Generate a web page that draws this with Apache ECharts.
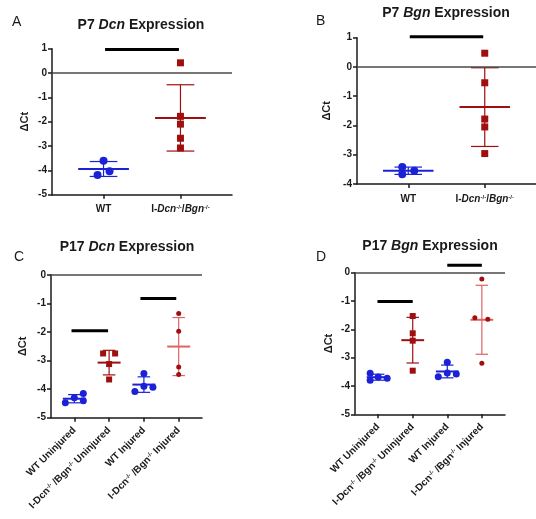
<!DOCTYPE html>
<html>
<head>
<meta charset="utf-8">
<script src="https://cdn.jsdelivr.net/npm/echarts@6.0.0/dist/echarts.min.js"></script>
<style>
html, body { margin: 0; padding: 0; background: #fff; }
#main { width: 536px; height: 519px; }
</style>
</head>
<body>
<div id="main"></div>
<script>
// ΔCt values
var p7Cats = ['WT', 'KO'];
var p17Cats = ['WT Uninjured', 'KO Uninjured', 'WT Injured', 'KO Injured'];

var p7DcnWT = [-3.60, -4.19, -4.04];
var p7DcnKO = [0.42, -1.78, -2.10, -2.68, -3.08];
var p7BgnWT = [-3.42, -3.67, -3.55];
var p7BgnKO = [0.47, -0.54, -1.78, -2.05, -2.96];

var p17DcnWTUninj = [-4.48, -4.30, -4.15, -4.41];
var p17DcnKOUninj = [-2.75, -2.75, -3.12, -3.66];
var p17DcnWTInj = [-3.45, -4.08, -3.90, -3.93];
var p17DcnKOInj = [-1.35, -1.97, -3.22, -3.49];

var p17BgnWTUninj = [-3.55, -3.80, -3.68, -3.73];
var p17BgnKOUninj = [-1.53, -2.14, -2.40, -3.46];
var p17BgnWTInj = [-3.16, -3.67, -3.54, -3.58];
var p17BgnKOInj = [-0.22, -1.59, -1.64, -3.20];

// significance bars: [from category, to category, height]
var sigA = [[1.02, 1.98, 0.97]];
var sigB = [[1.02, 1.98, 1.03]];
var sigC = [[0.92, 1.97, -1.95], [2.90, 3.93, -0.82]];
var sigD = [[0.98, 2.00, -1.02], [3.00, 4.00, 0.26]];

// horizontal jitter of the dots (px)
var jitA = [[0, -6, 6], [0, 0, 0, 0, 0]];
var jitB = [[-6, -6, 6], [0, 0, 0, 0, 0]];
var jitC = [[-9, 0, 9, 9], [-6, 6, 0, 0], [0, -9, 0, 9], [0, 0, 0, 0]];
var jitD = [[-8, -8, 0, 9], [0, 0, 0, 0], [0, -9, 0, 9], [0, -7, 6, 0]];

var BLUE = '#1b22d6';
var DKRED = '#a00f0f';
var LTRED = '#e06262';
var INK = '#1a1a1a';
var FONT = 'Liberation Sans, Arial, sans-serif';

var chart = echarts.init(document.getElementById('main'));

function stats(v) {
    var m = v.reduce(function (a, b) { return a + b; }, 0) / v.length;
    var ss = v.reduce(function (a, b) { return a + (b - m) * (b - m); }, 0);
    return {mean: m, sd: Math.sqrt(ss / (v.length - 1))};
}

function renderErr(params, api) {
    var x = api.value(0), m = api.value(1), s = api.value(2);
    var unit = api.size([1, 0])[0];
    var c = api.coord([x, m]);
    var t = api.coord([x, m + s]);
    var b = api.coord([x, m - s]);
    var hw = unit * 0.33, cw = unit * 0.18;
    var col = api.visual('color');
    var thin = {stroke: col, lineWidth: 1.2};
    return {
        type: 'group',
        children: [
            {type: 'line', shape: {x1: t[0], y1: t[1], x2: b[0], y2: b[1]}, style: thin},
            {type: 'line', shape: {x1: t[0] - cw, y1: t[1], x2: t[0] + cw, y2: t[1]}, style: thin},
            {type: 'line', shape: {x1: b[0] - cw, y1: b[1], x2: b[0] + cw, y2: b[1]}, style: thin},
            {type: 'line', shape: {x1: c[0] - hw, y1: c[1], x2: c[0] + hw, y2: c[1]}, style: {stroke: col, lineWidth: 2}}
        ]
    };
}

function renderSig(params, api) {
    var p1 = api.coord([api.value(0), api.value(2)]);
    var p2 = api.coord([api.value(1), api.value(2)]);
    return {type: 'line', shape: {x1: p1[0], y1: p1[1], x2: p2[0], y2: p2[1]}, style: {stroke: '#000', lineWidth: 3}};
}

var circle = {symbol: 'circle', size: 8, color: BLUE, bar: BLUE};
var square = {symbol: 'rect', size: 7, color: DKRED, bar: DKRED};
var dot = {symbol: 'circle', size: 6, color: DKRED, bar: LTRED};

var panels = [
    {groups: [p7DcnWT, p7DcnKO], jit: jitA, looks: [circle, square], sig: sigA},
    {groups: [p7BgnWT, p7BgnKO], jit: jitB, looks: [circle, square], sig: sigB},
    {groups: [p17DcnWTUninj, p17DcnKOUninj, p17DcnWTInj, p17DcnKOInj], jit: jitC,
        looks: [circle, square, circle, dot], sig: sigC},
    {groups: [p17BgnWTUninj, p17BgnKOUninj, p17BgnWTInj, p17BgnKOInj], jit: jitD,
        looks: [circle, square, circle, dot], sig: sigD}
];

var series = [];
panels.forEach(function (p, k) {
    p.groups.forEach(function (vals, g) {
        var st = stats(vals);
        var look = p.looks[g];
        var small = k >= 2 ? 1 : 0;
        series.push({
            type: 'custom', xAxisIndex: k, yAxisIndex: k, renderItem: renderErr,
            itemStyle: {color: look.bar}, data: [[g + 1, st.mean, st.sd]],
            clip: false, silent: true, z: 2
        });
        series.push({
            type: 'scatter', xAxisIndex: k, yAxisIndex: k,
            symbol: look.symbol, symbolSize: look.size - small,
            itemStyle: {color: look.color, opacity: 1},
            data: vals.map(function (v, i) {
                return {value: [g + 1, v], symbolOffset: [p.jit[g][i], 0]};
            }),
            silent: true, z: 3,
            markLine: g === 0 ? {
                silent: true, symbol: 'none', label: {show: false}, animation: false,
                lineStyle: {color: '#4a4a4a', width: 1.5, type: 'solid'},
                data: [{yAxis: 0}]
            } : undefined
        });
    });
    series.push({
        type: 'custom', xAxisIndex: k, yAxisIndex: k, renderItem: renderSig,
        data: p.sig, clip: false, silent: true, z: 4
    });
});

var rich = {
    b: {fontFamily: FONT, fontWeight: 'bold', fontSize: 10, color: INK},
    i: {fontFamily: FONT, fontWeight: 'bold', fontStyle: 'italic', fontSize: 10, color: INK},
    s: {fontFamily: FONT, fontWeight: 'bold', fontSize: 6, color: INK, verticalAlign: 'top'}
};

function p7Label(v) {
    var name = p7Cats[Math.round(v) - 1];
    if (name === 'WT') return '{b|WT}';
    return '{b|I-}{i|Dcn}{s|-/-}{b|/}{i|Bgn}{s|-/-}';
}

function p17Label(v) {
    var name = p17Cats[Math.round(v) - 1];
    if (name.indexOf('WT') === 0) return '{b|' + name + '}';
    return '{b|I-Dcn}{s|-/-}{b| /Bgn}{s|-/-}{b| ' + name.replace('KO ', '') + '}';
}

var grids = [
    {left: 52, top: 48.7, width: 180, height: 146},
    {left: 357, top: 37.7, width: 179, height: 146.3},
    {left: 51, top: 275, width: 151, height: 142.7},
    {left: 355, top: 272.7, width: 150, height: 141.6}
];
grids.forEach(function (g) { g.outerBoundsMode = 'none'; g.containLabel = false; });

var lineSt = {color: INK, width: 1.5};

var xAxes = [0, 1, 2, 3].map(function (k) {
    var four = k >= 2;
    var ticks = four ? [1, 2, 3, 4] : [1, 2];
    return {
        type: 'value', gridIndex: k, min: 0.33, max: four ? 4.67 : 2.67,
        position: 'bottom',
        splitLine: {show: false},
        axisLine: {show: true, onZero: false, lineStyle: lineSt},
        axisTick: {show: true, length: 4, lineStyle: lineSt, customValues: ticks},
        axisLabel: {
            customValues: ticks, formatter: four ? p17Label : p7Label,
            rotate: four ? 45 : 0, margin: four ? 11 : 10, rich: rich
        }
    };
});

var yRanges = [[-5, 1], [-4, 1], [-5, 0], [-5, 0]];
var nameGaps = [22, 25, 23, 21];
var yAxes = yRanges.map(function (r, k) {
    return {
        type: 'value', gridIndex: k, min: r[0], max: r[1], interval: 1,
        name: 'ΔCt', nameLocation: 'middle', nameRotate: 90, nameGap: nameGaps[k],
        nameTextStyle: {fontFamily: FONT, fontWeight: 'bold', fontSize: 11, color: INK},
        splitLine: {show: false},
        axisLine: {show: true, onZero: false, lineStyle: lineSt},
        axisTick: {show: true, length: 4, lineStyle: lineSt},
        axisLabel: {fontFamily: FONT, fontWeight: 'bold', fontSize: 10, color: INK, margin: 5}
    };
});

var tRich = {
    b: {fontFamily: FONT, fontWeight: 'bold', fontSize: 14, color: INK},
    i: {fontFamily: FONT, fontWeight: 'bold', fontStyle: 'italic', fontSize: 14, color: INK}
};
var titles = [
    {text: '{b|P7 }{i|Dcn}{b| Expression}', left: 141, top: 18},
    {text: '{b|P7 }{i|Bgn}{b| Expression}', left: 446, top: 6},
    {text: '{b|P17 }{i|Dcn}{b| Expression}', left: 127, top: 240},
    {text: '{b|P17 }{i|Bgn}{b| Expression}', left: 430, top: 239}
].map(function (t) {
    return {text: t.text, left: t.left, top: t.top, textAlign: 'center', padding: 0,
        textStyle: {rich: tRich}};
});
var letters = [['A', 12, 15], ['B', 316, 14], ['C', 14, 250], ['D', 316, 250]];
letters.forEach(function (l) {
    titles.push({text: l[0], left: l[1], top: l[2], padding: 0,
        textStyle: {fontFamily: FONT, fontWeight: 'normal', fontSize: 14, color: INK}});
});

chart.setOption({
    animation: false,
    backgroundColor: '#fff',
    title: titles,
    grid: grids,
    xAxis: xAxes,
    yAxis: yAxes,
    series: series
});
</script>
</body>
</html>
